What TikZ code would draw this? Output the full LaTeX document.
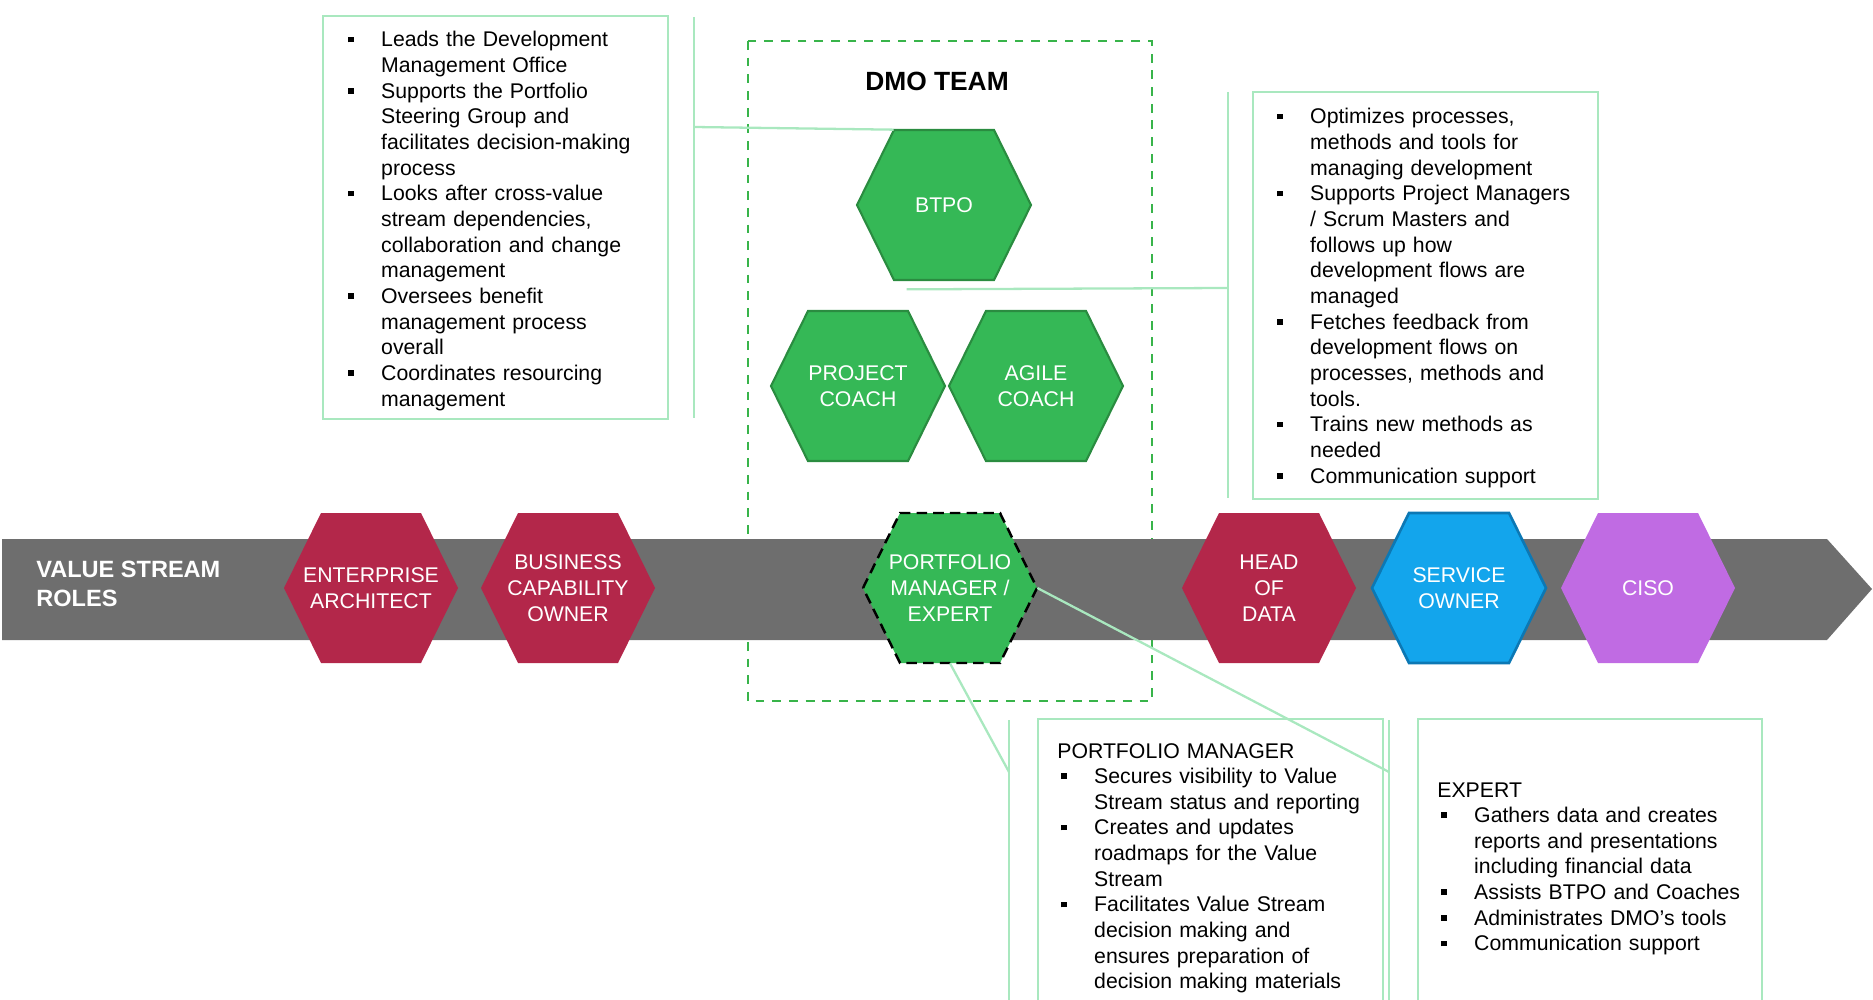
\documentclass[tikz,border=0pt]{standalone}
\usepackage{fontspec}
\setmainfont{Liberation Sans}
\usetikzlibrary{calc}

\definecolor{crimson}{HTML}{B3274A}
\definecolor{hexgreen}{HTML}{35B856}
\definecolor{hexedge}{HTML}{2A8C40}
\definecolor{skyblue}{HTML}{13A5EC}
\definecolor{skyedge}{HTML}{0C78B4}
\definecolor{lilac}{HTML}{C06BE3}
\definecolor{bargray}{HTML}{6E6E6E}
\definecolor{dmogreen}{HTML}{38B44A}
\definecolor{palegreen}{HTML}{A9E8BF}

% hexagon with its label: name, centre, look, text
\newcommand{\rolehex}[4]{%
  \path[#3] (#2) ++(-87,0) -- ++(37,-75) -- ++(100,0) -- ++(37,75) -- ++(-37,75) -- ++(-100,0) -- cycle;
  \node[role] (#1) at (#2) {#4};
}
% square bullet with hanging lines
\newcommand{\firstbul}{\noindent\hangindent=18.7pt\hangafter=1\makebox[18.7pt][l]{\rule[2.6pt]{3.2pt}{3.2pt}}}
\newcommand{\bul}{\par\firstbul}

\begin{document}
\begin{tikzpicture}[x=0.02cm, y=-0.02cm,
    role/.style={minimum width=3.48cm, minimum height=3cm, inner sep=0pt, text=white,
      align=center, font=\fontsize{12.1}{14.8}\selectfont},
    boxtext/.style={anchor=base west, inner sep=0pt, text width=6.3cm, align=left,
      font=\fontsize{12.1}{14.6}\selectfont},
    dutybox/.style={draw=palegreen, line width=1.5pt},
    leader/.style={draw=palegreen, line width=1.3pt}]

    \useasboundingbox (0,0) rectangle (1873,1000);
    \clip (0,0) rectangle (1873,1000);

    % the dmo team frame
    \draw[dmogreen, line width=1.5pt, dash pattern=on 5pt off 4.5pt] (748,41) rectangle (1152,701);
    \node[anchor=base, font=\fontsize{15}{18}\selectfont\bfseries] (dmo) at (937,91) {DMO TEAM};

    % the value stream arrow
    \fill[bargray] (2,539) -- (1827,539) -- (1872,589) -- (1827,640) -- (2,640) -- cycle;
    \node[anchor=west, inner sep=0pt, align=left, text=white,
      font=\fontsize{13.4}{16.4}\selectfont\bfseries] (vsr) at (36,584) {VALUE STREAM\\ROLES};

    % these are the roles
    \rolehex{ea}{371,588}{fill=crimson}{ENTERPRISE\\ARCHITECT}
    \rolehex{bco}{568,588}{fill=crimson}{BUSINESS\\CAPABILITY\\OWNER}
    \rolehex{pm}{950,588}{fill=hexgreen, draw=black, line width=1.4pt, dash pattern=on 6pt off 3.5pt}{PORTFOLIO\\MANAGER /\\EXPERT}
    \rolehex{hod}{1269,588}{fill=crimson}{HEAD\\OF\\DATA}
    \rolehex{so}{1459,588}{fill=skyblue, draw=skyedge, line width=1.5pt}{SERVICE\\OWNER}
    \rolehex{ciso}{1648,588}{fill=lilac}{CISO}
    \rolehex{btpo}{944,205}{fill=hexgreen, draw=hexedge, line width=1.2pt}{BTPO}
    \rolehex{pc}{858,386}{fill=hexgreen, draw=hexedge, line width=1.2pt}{PROJECT\\COACH}
    \rolehex{ac}{1036,386}{fill=hexgreen, draw=hexedge, line width=1.2pt}{AGILE\\COACH}

    % btpo duties
    \draw[dutybox] (323,16) rectangle (668,419);
    \node[boxtext] (btpotext) at (348,47) {\firstbul Leads the Development\newline Management Office
      \bul Supports the Portfolio\newline Steering Group and\newline facilitates decision-making\newline process
      \bul Looks after cross-value\newline stream dependencies,\newline collaboration and change\newline management
      \bul Oversees benefit\newline management process\newline overall
      \bul Coordinates resourcing\newline management\par};

    % coach duties
    \draw[dutybox] (1253,92) rectangle (1598,499);
    \node[boxtext] (coachtext) at (1277,124) {\firstbul Optimizes processes,\newline methods and tools for\newline managing development
      \bul Supports Project Managers\newline / Scrum Masters and\newline follows up how\newline development flows are\newline managed
      \bul Fetches feedback from\newline development flows on\newline processes, methods and\newline tools.
      \bul Trains new methods as\newline needed
      \bul Communication support\par};

    % portfolio manager duties
    \draw[dutybox] (1038,1010) -- (1038,719) -- (1383,719) -- (1383,1010);
    \node[boxtext] (pmtext) at (1061,758) {\hspace*{-2.3pt}PORTFOLIO MANAGER
      \bul Secures visibility to Value\newline Stream status and reporting
      \bul Creates and updates\newline roadmaps for the Value\newline Stream
      \bul Facilitates Value Stream\newline decision making and\newline ensures preparation of\newline decision making materials\par};

    % expert duties
    \draw[dutybox] (1418,1010) -- (1418,719) -- (1762,719) -- (1762,1010);
    \node[boxtext] (extext) at (1441,797) {\hspace*{-2.3pt}EXPERT
      \bul Gathers data and creates\newline reports and presentations\newline including financial data
      \bul Assists BTPO and Coaches
      \bul Administrates DMO’s tools
      \bul Communication support\par};

    % leaders of the boxes
    \coordinate (ltop) at (694,17);
    \coordinate (lbot) at (694,418);
    \coordinate (lhook) at (694,127);
    \coordinate (rtop) at (1228,92);
    \coordinate (rbot) at (1228,498);
    \coordinate (rhook) at (1228,288);
    \coordinate (pmtop) at (1009,720);
    \coordinate (pmbot) at (1009,1010);
    \coordinate (pmhook) at (1009,772);
    \coordinate (extop) at (1389,720);
    \coordinate (exbot) at (1389,1010);
    \coordinate (exhook) at (1389,772);

    \draw[leader] (ltop) -- (lbot);
    \draw[leader] (rtop) -- (rbot);
    \draw[leader] (pmtop) -- (pmbot);
    \draw[leader] (extop) -- (exbot);

    \draw[leader] (lhook) -- ($(btpo.north west)+(37,0)$);
    \draw[leader] ($(btpo.south west)+(50,9)$) -- (rhook);
    \draw[leader] (pm.south) -- (pmhook);
    \draw[leader] (pm.east) -- (exhook);

\end{tikzpicture}
\end{document}
